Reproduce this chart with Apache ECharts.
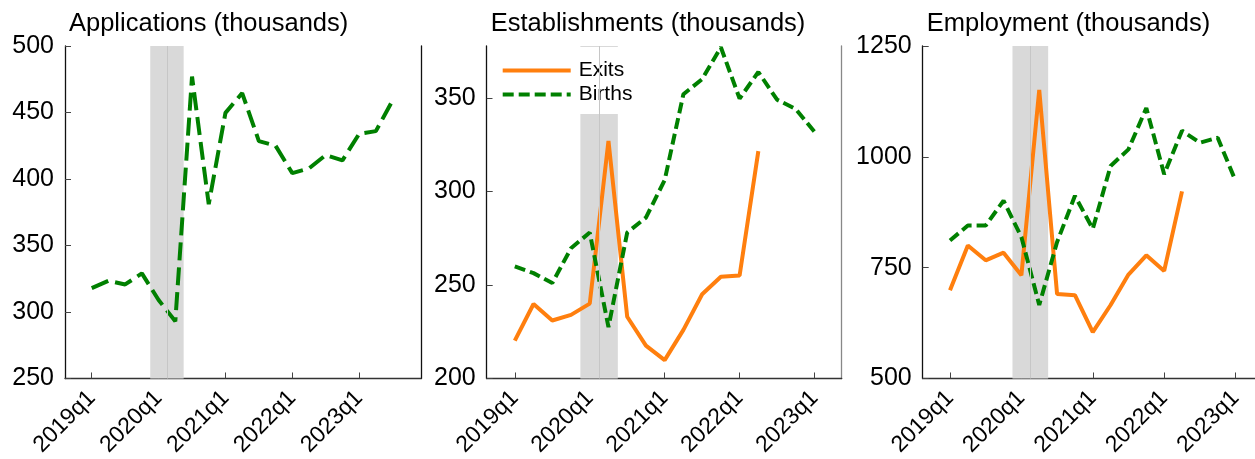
<!DOCTYPE html>
<html><head><meta charset="utf-8">
<script src="https://cdn.jsdelivr.net/npm/echarts@6/dist/echarts.min.js"></script>
<style>html,body{margin:0;padding:0;background:#fff}#c{width:1255px;height:459px}</style>
</head><body><div id="c"></div>
<script>
const quarters = ['2019q1','2019q2','2019q3','2019q4','2020q1','2020q2','2020q3','2020q4',
  '2021q1','2021q2','2021q3','2021q4','2022q1','2022q2','2022q3','2022q4','2023q1','2023q2','2023q3'];
const tickIdx = [0, 4, 8, 12, 16];
const titles = ['Applications (thousands)', 'Establishments (thousands)', 'Employment (thousands)'];
const yTicks = [[250, 300, 350, 400, 450, 500], [200, 250, 300, 350], [500, 750, 1000, 1250]];
const applications = [318, 323.5, 320.7, 329, 309, 293, 477, 381, 449.7, 464.6, 428.5, 425, 404.4, 408, 418, 414, 434, 436, 459];
const estExits  = [220.2, 239.8, 231, 234, 240, 327, 233, 217.6, 209.8, 226, 245, 254.4, 255, 321.5];
const estBirths = [259.9, 256.3, 251, 269.6, 278, 227.5, 278, 286, 306, 351.9, 360, 377, 349.6, 363.8, 349, 344, 331.8];
const empExits  = [699, 800, 766.6, 783.8, 733, 1151, 690.4, 688, 604.6, 665.8, 734.5, 777.8, 742.7, 922];
const empBirths = [811.4, 845, 845, 901, 819, 665.8, 807.7, 912, 837.6, 979.5, 1016.8, 1110, 960.8, 1059, 1031.7, 1043, 945.8];
const recession = [[3.5, 4.5], [4.5, 5.5]];

const FONT = 'Liberation Sans, Arial, Helvetica, sans-serif';
const ORANGE = '#ff7f0e', GREEN = '#008000';
const toPts = a => a.map((v, i) => [i, v]);

const grids = [
  {left: 65, width: 356, xmin: -1.6, xmax: 19.7, ymin: 250, ymax: 500, rightColor: '#111', right: true},
  {left: 486.7, width: 355, xmin: -1.5, xmax: 17.45, ymin: 200, ymax: 377.7, rightColor: '#888', right: true},
  {left: 922.7, width: 332.3, xmin: -1.53, xmax: 17.09, ymin: 500, ymax: 1250, rightColor: '#111', right: false}
];

const option = {
  animation: false,
  backgroundColor: '#fff',
  textStyle: {fontFamily: FONT},
  title: titles.map((t, i) => ({
    text: t, left: grids[i].left - 1, top: 6,
    textStyle: {fontSize: 25.5, fontWeight: 'normal', color: '#000', fontFamily: FONT}
  })),
  legend: {
    data: ['Exits', 'Births'], orient: 'vertical',
    left: 492.7, top: 47, padding: [13, 10, 9, 8],
    backgroundColor: '#fff', itemWidth: 68, itemHeight: 14, itemGap: 3,
    itemStyle: {opacity: 0},
    lineStyle: {width: 4},
    textStyle: {fontSize: 21, color: '#000', fontFamily: FONT, padding: [0, 0, 0, 3]}
  },
  grid: grids.map(g => ({left: g.left, width: g.width, top: 46, height: 334.7})),
  xAxis: grids.map((g, i) => ({
    type: 'value', gridIndex: i, min: g.xmin, max: g.xmax,
    splitLine: {show: false},
    axisLine: {onZero: false, lineStyle: {color: '#333', width: 1.3}},
    axisTick: {inside: true, length: 6, customValues: tickIdx, lineStyle: {color: '#444'}},
    axisLabel: {customValues: tickIdx, formatter: v => quarters[Math.round(v)], rotate: 45,
      margin: 16, fontSize: 23, color: '#000', fontFamily: FONT}
  })),
  yAxis: grids.flatMap((g, i) => ([
    {type: 'value', gridIndex: i, min: g.ymin, max: g.ymax,
      splitLine: {show: false},
      axisLine: {show: true, onZero: false, lineStyle: {color: '#111', width: 1.3}},
      axisTick: {show: true, inside: true, length: 6, customValues: yTicks[i], lineStyle: {color: '#444'}},
      axisLabel: {customValues: yTicks[i], formatter: v => String(v), fontSize: 25, color: '#000',
        margin: 11, fontFamily: FONT}
    },
    {type: 'value', gridIndex: i, position: 'right', min: g.ymin, max: g.ymax,
      splitLine: {show: false},
      axisLine: {show: g.right, onZero: false, lineStyle: {color: g.rightColor, width: 1.3}},
      axisTick: {show: false}, axisLabel: {show: false}
    }
  ])),
  series: []
};

grids.forEach((g, i) => {
  option.series.push({
    type: 'line', name: 'shade' + i, xAxisIndex: i, yAxisIndex: i * 2, data: [], z: 1, silent: true,
    markArea: {silent: true, itemStyle: {color: '#d9d9d9'},
      data: recession.map(r => [{xAxis: r[0]}, {xAxis: r[1]}])},
    markLine: {silent: true, symbol: 'none', label: {show: false},
      lineStyle: {color: '#c6c6c6', type: 'solid', width: 1},
      data: [{xAxis: recession[0][1]}]}
  });
});

option.series.push({
  type: 'line', name: 'Applications', xAxisIndex: 0, yAxisIndex: 0, data: toPts(applications),
  symbol: 'none', z: 3, lineStyle: {color: GREEN, width: 4, type: [18, 7]}, itemStyle: {color: GREEN}
});
[[1, estExits, estBirths], [2, empExits, empBirths]].forEach(([i, ex, bi]) => {
  option.series.push({
    type: 'line', name: 'Exits', xAxisIndex: i, yAxisIndex: i * 2, data: toPts(ex),
    symbol: 'none', z: 3, lineStyle: {color: ORANGE, width: 4}, itemStyle: {color: ORANGE}
  });
  option.series.push({
    type: 'line', name: 'Births', xAxisIndex: i, yAxisIndex: i * 2, data: toPts(bi),
    symbol: 'none', z: 3, lineStyle: {color: GREEN, width: 4, type: [11, 5]}, itemStyle: {color: GREEN}
  });
});

const chart = echarts.init(document.getElementById('c'), null, {renderer: 'canvas'});
chart.setOption(option);
</script>
</body></html>
